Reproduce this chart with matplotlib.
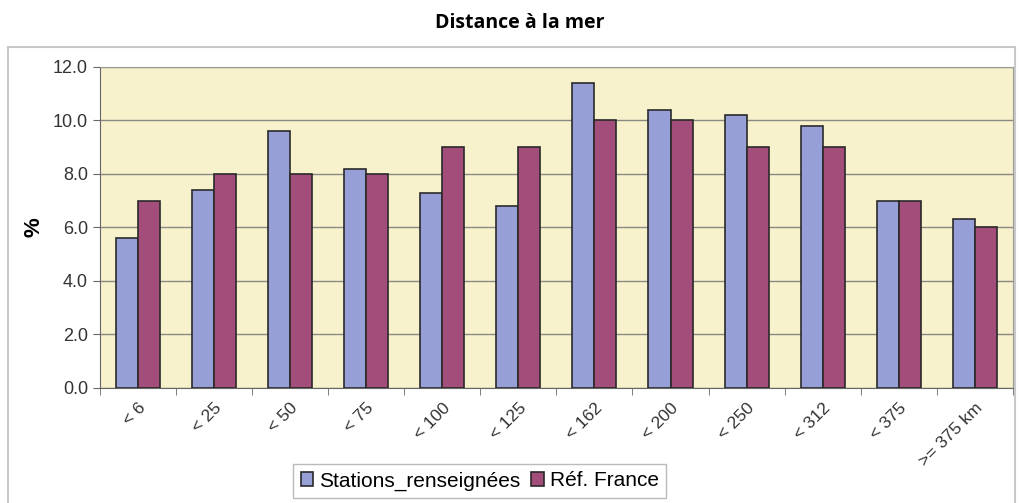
import numpy as np
import matplotlib
matplotlib.use("Agg")
import matplotlib.pyplot as plt
from matplotlib.patches import Rectangle

categories = ["< 6", "< 25", "< 50", "< 75", "< 100", "< 125", "< 162",
              "< 200", "< 250", "< 312", "< 375", ">= 375 km"]
stations = [5.6, 7.4, 9.6, 8.2, 7.3, 6.8, 11.4, 10.4, 10.2, 9.8, 7.0, 6.3]
ref_france = [7.0, 8.0, 8.0, 8.0, 9.0, 9.0, 10.0, 10.0, 9.0, 9.0, 7.0, 6.0]
yticks = [0, 2, 4, 6, 8, 10, 12]

plt.rcParams['font.family'] = ['Liberation Sans', 'DejaVu Sans']

fig = plt.figure(figsize=(10.19, 5.03), dpi=100)
ax = fig.add_axes([0.098, 0.229, 0.896, 0.638])

# outer chart frame
fig.patches.append(Rectangle((0.008, -0.01), 0.988, 0.917, transform=fig.transFigure,
                             fill=False, edgecolor='#c8c8c8', linewidth=1.5))

x = np.arange(len(categories))
w = 0.29
ax.bar(x - w / 2, stations, w, color='#97a0d6', edgecolor='#2a2a2a', linewidth=1.2,
       label='Stations_renseignées', zorder=3)
ax.bar(x + w / 2, ref_france, w, color='#a24d7a', edgecolor='#2a2a2a', linewidth=1.2,
       label='Réf. France', zorder=3)

ax.set_facecolor('#f7f1cc')
ax.set_xlim(-0.5, len(categories) - 0.5)
ax.set_ylim(0, 12)
ax.set_yticks(yticks)
ax.set_yticklabels(['%.1f' % v for v in yticks], fontsize=13, color='#333333')
ax.yaxis.grid(True, color='#8a8a80', linewidth=1, zorder=0)
ax.set_axisbelow(True)

ax.set_xticks(x)
ax.set_xticklabels(categories, rotation=45, ha='right', rotation_mode='anchor',
                   fontsize=12.5, color='#333333')
ax.tick_params(axis='x', length=0, pad=9)
ax.set_xticks(np.arange(-0.5, len(categories)), minor=True)
ax.tick_params(axis='x', which='minor', length=5, color='#666666')
ax.tick_params(axis='y', length=5, color='#666666')

for s in ['top', 'right']:
    ax.spines[s].set_color('#9a9a9a')
for s in ['left', 'bottom']:
    ax.spines[s].set_color('#666666')

ax.set_ylabel('%', fontsize=16, fontweight='bold', labelpad=6)
fig.text(0.51, 0.955, 'Distance à la mer', ha='center', va='center',
         fontsize=14, fontweight='bold', family=['Open Sans', 'DejaVu Sans'])

leg = ax.legend(loc='center', bbox_to_anchor=(0.416, -0.29), ncol=2, fontsize=15,
                frameon=True, fancybox=False, edgecolor='#aaaaaa',
                handlelength=0.6, handleheight=0.6, handletextpad=0.3,
                columnspacing=0.5, borderpad=0.35)

fig.savefig('out.png', dpi=100)
